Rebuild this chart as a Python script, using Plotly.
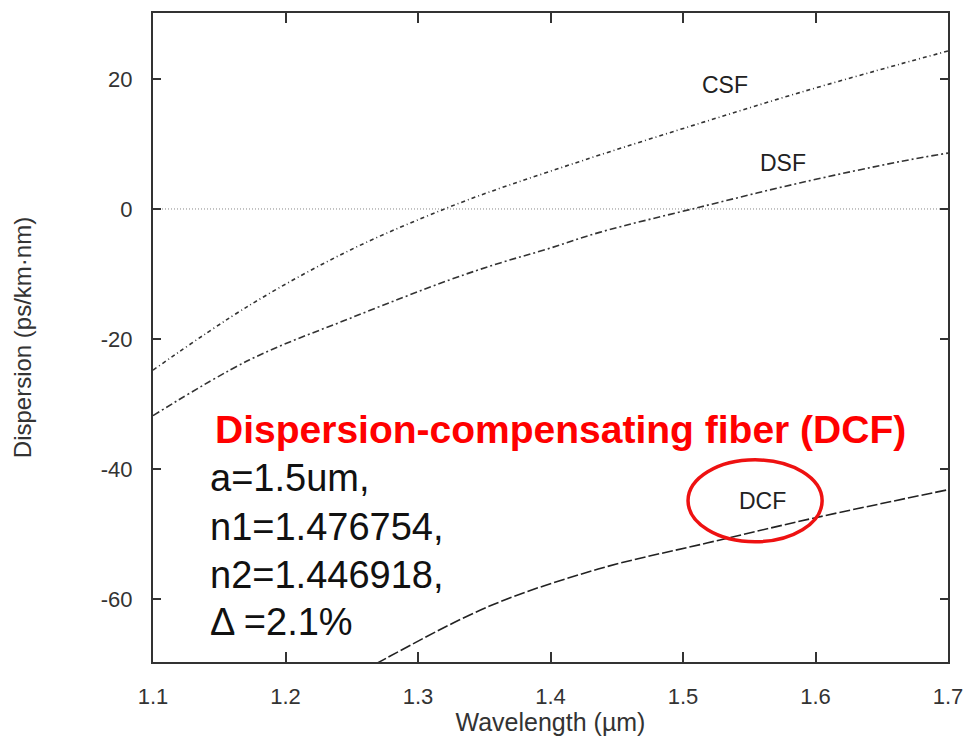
import plotly.graph_objects as go

wl_csf = [1.100, 1.173, 1.249, 1.320, 1.362, 1.397, 1.437, 1.513, 1.588, 1.664, 1.700]
d_csf = [-24.8, -14.8, -6.3, 0.0, 3.2, 5.6, 8.3, 13.2, 17.9, 22.3, 24.3]

wl_dsf = [1.100, 1.173, 1.249, 1.324, 1.362, 1.397, 1.437, 1.513, 1.588, 1.664, 1.700]
d_dsf = [-31.8, -23.2, -16.8, -10.9, -8.3, -6.2, -3.6, 0.3, 4.0, 7.3, 8.6]

wl_dcf = [1.250, 1.278, 1.354, 1.436, 1.518, 1.600, 1.700]
d_dcf = [-72.1, -68.9, -61.1, -55.4, -51.4, -47.5, -43.2]

wl_zero = [1.1, 1.7]
d_zero = [0, 0]

x_ticks = [1.1, 1.2, 1.3, 1.4, 1.5, 1.6, 1.7]
x_tick_text = ["1.1", "1.2", "1.3", "1.4", "1.5", "1.6", "1.7"]
y_ticks = [-60, -40, -20, 0, 20]
y_tick_text = ["-60", "-40", "-20", "0", "20"]

curve_labels = ["CSF", "DSF", "DCF"]
label_x = [1.532, 1.5755, 1.560]
label_y = [19.1, 7.1, -44.9]

note_title = "Dispersion-compensating fiber (DCF)"
note_lines = ["a=1.5um,", "n1=1.476754,", "n2=1.446918,", "\u0394 =2.1%"]
note_y = [-41.4, -48.9, -56.3, -63.5]

FONT = "Liberation Sans, Arial, Helvetica, sans-serif"
INK = "#333333"

fig = go.Figure()
fig.add_trace(go.Scatter(x=wl_zero, y=d_zero, mode="lines",
                         line=dict(color="#888888", width=1, dash="1px,2px"),
                         showlegend=False, hoverinfo="skip"))
fig.add_trace(go.Scatter(x=wl_csf, y=d_csf, mode="lines", line_shape="spline",
                         line=dict(color=INK, width=1.6, dash="4px,3px,1px,3px"),
                         showlegend=False))
fig.add_trace(go.Scatter(x=wl_dsf, y=d_dsf, mode="lines", line_shape="spline",
                         line=dict(color=INK, width=1.6, dash="7px,3px,2px,3px"),
                         showlegend=False))
fig.add_trace(go.Scatter(x=wl_dcf, y=d_dcf, mode="lines", line_shape="spline",
                         line=dict(color="#222222", width=1.6, dash="11px,3px"),
                         showlegend=False))

for t, x, y in zip(curve_labels, label_x, label_y):
    fig.add_annotation(x=x, y=y, text=t, showarrow=False, xanchor="center", yanchor="middle",
                       font=dict(family=FONT, size=23, color="#222222"))

fig.add_annotation(x=1.1453, y=-34.0, text="<b>" + note_title + "</b>", showarrow=False,
                   xanchor="left", yanchor="middle",
                   font=dict(family=FONT, size=39, color="#ff0000"))
for t, y in zip(note_lines, note_y):
    fig.add_annotation(x=1.1415, y=y, text=t, showarrow=False, xanchor="left", yanchor="middle",
                       font=dict(family=FONT, size=38, color="#111111"))

fig.add_shape(type="circle", xref="x", yref="y", x0=1.5038, x1=1.605, y0=-51.2, y1=-38.6,
              line=dict(color="#ee1111", width=3.5))

fig.update_xaxes(range=[1.1, 1.7], tickvals=x_ticks, ticktext=x_tick_text,
                 ticks="inside", ticklen=10, tickwidth=1.5, tickcolor=INK,
                 showline=True, linecolor=INK, linewidth=2, mirror="ticks",
                 showgrid=False, zeroline=False, ticklabelstandoff=14, automargin=False,
                 tickfont=dict(family=FONT, size=22, color=INK),
                 title=dict(text="Wavelength (\u00b5m)", standoff=4,
                            font=dict(family=FONT, size=25, color=INK)))
fig.update_yaxes(range=[-69.7, 30.15], tickvals=y_ticks, ticktext=y_tick_text,
                 ticks="inside", ticklen=8, tickwidth=1.5, tickcolor=INK,
                 showline=True, linecolor=INK, linewidth=2, mirror="ticks",
                 showgrid=False, zeroline=False, ticklabelstandoff=14, automargin=False,
                 tickfont=dict(family=FONT, size=22, color=INK),
                 title=dict(text="Dispersion (ps/km\u00b7nm)", standoff=62,
                            font=dict(family=FONT, size=24, color=INK)))

fig.update_layout(width=965, height=736, margin=dict(l=153, r=17, t=13, b=74),
                  paper_bgcolor="white", plot_bgcolor="white", showlegend=False)

fig.write_html("out.html")
